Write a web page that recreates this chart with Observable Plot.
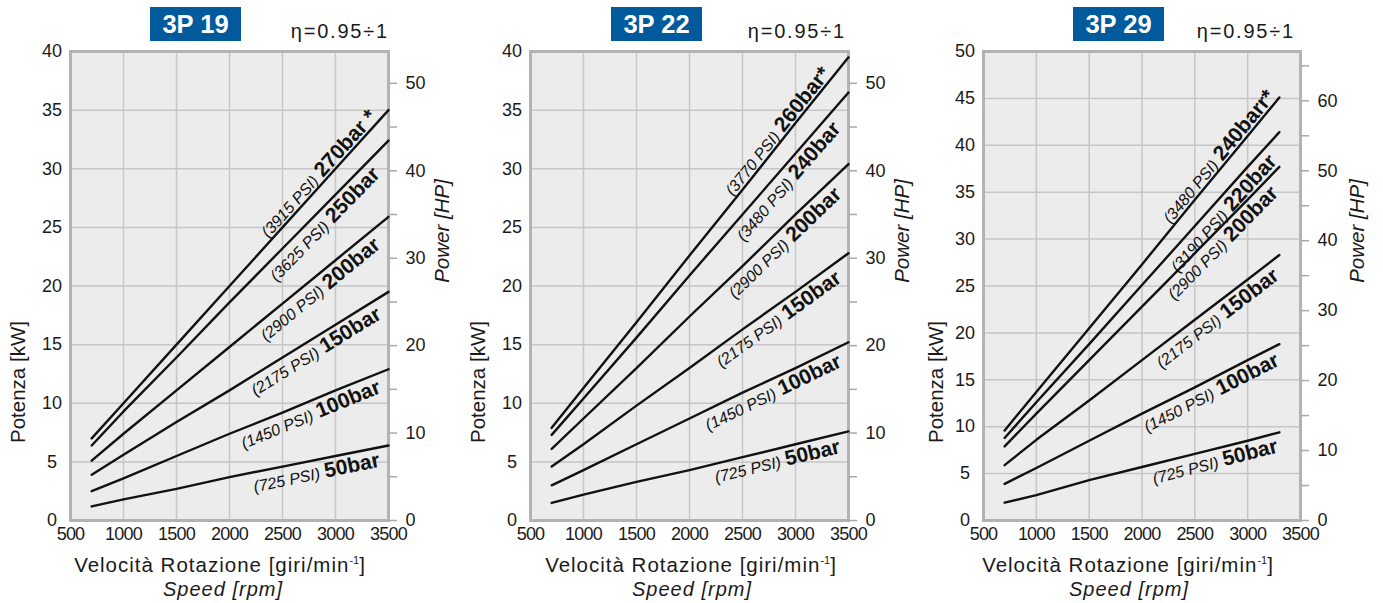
<!DOCTYPE html>
<html><head><meta charset="utf-8">
<script src="https://cdn.jsdelivr.net/npm/d3@7"></script>
<script src="https://cdn.jsdelivr.net/npm/@observablehq/plot@0.6"></script>
<style>
html,body{margin:0;padding:0;background:#fff;}
#root{position:relative;width:1383px;height:603px;overflow:hidden;font-family:"Liberation Sans",Arial,sans-serif;color:#1a1a1a;}
.panel{position:absolute;top:0;height:603px;}
.panel svg{position:absolute;left:0;top:0;overflow:visible;}
.panel svg g[aria-label="x-axis tick label"] text{letter-spacing:-0.8px;}
.tbox{position:absolute;top:7px;width:91px;height:34px;background:#005a9c;color:#fff;font-weight:bold;font-size:25.5px;line-height:34px;text-align:center;}
.eta{position:absolute;top:21px;font-size:20px;line-height:20px;letter-spacing:1.8px;white-space:nowrap;transform:translateX(-100%);}
.vel{position:absolute;top:554px;font-size:20.5px;line-height:22px;letter-spacing:1px;white-space:nowrap;transform:translateX(-50%);}
.vel sup{font-size:11px;vertical-align:8px;line-height:0;letter-spacing:0;}
.spd{position:absolute;top:578px;font-size:20px;line-height:22px;letter-spacing:1px;font-style:italic;white-space:nowrap;transform:translateX(-50%);}
.rot{position:absolute;font-size:20.5px;line-height:22px;white-space:nowrap;transform:translate(-50%,-50%) rotate(-90deg);}
.rot.it{font-style:italic;}
</style>
</head><body><div id="root"></div>
<script>
const KW_PER_HP = 0.7457;
const xTicks = [500, 1000, 1500, 2000, 2500, 3000, 3500];
const yTicks40 = [0, 5, 10, 15, 20, 25, 30, 35, 40];
const yTicks50 = [0, 5, 10, 15, 20, 25, 30, 35, 40, 45, 50];
const hpTicks50 = [0, 5, 10, 15, 20, 25, 30, 35, 40, 45, 50];
const hpTicks65 = [0, 5, 10, 15, 20, 25, 30, 35, 40, 45, 50, 55, 60, 65];

// ---- 3P 19 ----
const rpm19 = [700, 1000, 1500, 2000, 2500, 3000, 3500];
const kw19_270 = [7.0, 10.0, 15.0, 20.0, 25.0, 30.0, 35.0];
const kw19_250 = [6.4, 9.3, 13.9, 18.6, 23.2, 27.8, 32.4];
const kw19_200 = [5.1, 7.4, 11.1, 14.8, 18.5, 22.2, 25.9];
const kw19_150 = [3.9, 5.6, 8.4, 11.1, 13.9, 16.7, 19.5];
const kw19_100 = [2.5, 3.6, 5.5, 7.4, 9.2, 11.1, 12.9];
const kw19_50  = [1.2, 1.8, 2.7, 3.7, 4.6, 5.5, 6.4];
const bars19 = ["270bar *", "250bar", "200bar", "150bar", "100bar", "50bar"];
const psi19 = ["(3915 PSI)", "(3625 PSI)", "(2900 PSI)", "(2175 PSI)", "(1450 PSI)", "(725 PSI)"];

// ---- 3P 22 ----
const rpm22 = [700, 1000, 1500, 2000, 2500, 3000, 3500];
const kw22_260 = [7.9, 11.3, 16.9, 22.6, 28.2, 33.9, 39.5];
const kw22_240 = [7.3, 10.4, 15.6, 20.9, 26.1, 31.3, 36.5];
const kw22_200 = [6.1, 8.7, 13.0, 17.4, 21.7, 26.1, 30.4];
const kw22_150 = [4.6, 6.5, 9.8, 13.0, 16.3, 19.5, 22.8];
const kw22_100 = [3.0, 4.3, 6.5, 8.7, 10.9, 13.0, 15.2];
const kw22_50  = [1.5, 2.2, 3.3, 4.3, 5.4, 6.5, 7.6];
const bars22 = ["260bar*", "240bar", "200bar", "150bar", "100bar", "50bar"];
const psi22 = ["(3770 PSI)", "(3480 PSI)", "(2900 PSI)", "(2175 PSI)", "(1450 PSI)", "(725 PSI)"];

// ---- 3P 29 ----
const rpm29 = [700, 1000, 1500, 2000, 2500, 3000, 3300];
const kw29_240 = [9.6, 13.7, 20.5, 27.3, 34.2, 41.0, 45.1];
const kw29_220 = [8.8, 12.6, 18.8, 25.1, 31.4, 37.7, 41.4];
const kw29_200 = [7.9, 11.4, 17.1, 22.8, 28.5, 34.2, 37.7];
const kw29_150 = [5.9, 8.6, 12.8, 17.1, 21.4, 25.7, 28.3];
const kw29_100 = [3.9, 5.6, 8.5, 11.4, 14.2, 17.1, 18.8];
const kw29_50  = [1.9, 2.7, 4.3, 5.7, 7.1, 8.5, 9.4];
const bars29 = ["240barr*", "220bar", "200bar", "150bar", "100bar", "50bar"];
const psi29 = ["(3480 PSI)", "(3190 PSI)", "(2900 PSI)", "(2175 PSI)", "(1450 PSI)", "(725 PSI)"];

// ---- layout (positions / sizes only) ----
const labelAt19 = [3420, 3300, 3320, 3350, 3370, 3390];
const labelAt22 = [3360, 3300, 3320, 3340, 3370, 3390];
const labelAt29 = [3290, 3150, 3170, 3200, 3230, 3250];

const panels = [
  {title: "3P 19", left: 0, width: 460, frameW: 318, ymax: 40, yTicks: yTicks40, hpTicks: hpTicks50,
   rpm: rpm19, kw: [kw19_270, kw19_250, kw19_200, kw19_150, kw19_100, kw19_50], bars: bars19, psi: psi19, at: labelAt19,
   box: 150, eta: 389, vel: 220, spd: 223, pot: 18, pow: 442},
  {title: "3P 22", left: 460, width: 460, frameW: 318, ymax: 40, yTicks: yTicks40, hpTicks: hpTicks50,
   rpm: rpm22, kw: [kw22_260, kw22_240, kw22_200, kw22_150, kw22_100, kw22_50], bars: bars22, psi: psi22, at: labelAt22,
   box: 151, eta: 386, vel: 231, spd: 232, pot: 18, pow: 442},
  {title: "3P 29", left: 913, width: 470, frameW: 317, ymax: 50, yTicks: yTicks50, hpTicks: hpTicks65,
   rpm: rpm29, kw: [kw29_240, kw29_220, kw29_200, kw29_150, kw29_100, kw29_50], bars: bars29, psi: psi29, at: labelAt29,
   box: 160, eta: 382, vel: 215, spd: 216, pot: 23, pow: 444}
];

function interp(xs, ys, x) {
  for (let i = 1; i < xs.length; i++) {
    if (x <= xs[i]) { const t = (x - xs[i-1]) / (xs[i] - xs[i-1]); return ys[i-1] + t * (ys[i] - ys[i-1]); }
  }
  return ys[ys.length - 1];
}

const root = document.getElementById("root");
const NS = "http://www.w3.org/2000/svg";
const BOLD = 21, ITAL = 16;

for (const p of panels) {
  const W = p.width, H = 603, ml = 70, mr = W - 70 - p.frameW, mt = 51, mb = 83;
  const sx = d3.scaleLinear([500, 3500], [ml, W - mr]);
  const sy = d3.scaleLinear([0, p.ymax], [H - mb, mt]);
  const rows = [];
  p.kw.forEach((arr, s) => arr.forEach((v, i) => rows.push({s, x: p.rpm[i], y: v})));
  const labels = p.kw.map((arr, s) => {
    const n = arr.length - 1;
    const angle = Math.atan2(sy(arr[n]) - sy(arr[0]), sx(p.rpm[n]) - sx(p.rpm[0])) * 180 / Math.PI;
    return {x: p.at[s], y: interp(p.rpm, arr, p.at[s]), bar: p.bars[s], psi: p.psi[s], angle, above: s === 0};
  });
  const textOpts = {x: "x", y: "y", text: "bar", rotate: "angle", textAnchor: "end", fontWeight: "bold", fontSize: BOLD, fill: "#111"};
  const svg = Plot.plot({
    width: W, height: H, marginLeft: ml, marginRight: mr, marginTop: mt, marginBottom: mb,
    x: {domain: [500, 3500], axis: null},
    y: {domain: [0, p.ymax], axis: null},
    style: {background: "transparent", fontFamily: "'Liberation Sans', Arial, sans-serif", fontSize: "18px", color: "#1a1a1a", overflow: "visible"},
    marks: [
      Plot.frame({fill: "#ebeceb", stroke: "none"}),
      Plot.gridX(xTicks, {stroke: "#c6c6c6", strokeOpacity: 1, strokeWidth: 1.5}),
      Plot.gridY(p.yTicks, {stroke: "#c6c6c6", strokeOpacity: 1, strokeWidth: 1.5}),
      Plot.frame({stroke: "#b3b3b3", strokeWidth: 3}),
      Plot.axisX(xTicks, {anchor: "bottom", tickSize: 0, tickPadding: 7, fontSize: 18, label: null, tickFormat: d => String(d)}),
      Plot.axisY(p.yTicks, {anchor: "left", tickSize: 0, tickPadding: 18.5, textAnchor: "middle", fontSize: 18, label: null}),
      Plot.axisY(p.hpTicks.map(h => h * KW_PER_HP), {anchor: "right", tickSize: 8, tickPadding: 9, stroke: "#a9a9a9", strokeWidth: 1.5, fontSize: 18, label: null,
        tickFormat: d => { const h = Math.round(d / KW_PER_HP); return h % 10 === 0 ? String(h) : ""; }}),
      Plot.line(rows, {x: "x", y: "y", z: "s", stroke: "#111", strokeWidth: 2.4}),
      Plot.text(labels.filter(d => d.above), {...textOpts, lineAnchor: "bottom"}),
      Plot.text(labels.filter(d => !d.above), {...textOpts, lineAnchor: "top"})
    ]
  });
  // two-style labels: italic PSI + bold bar
  svg.querySelectorAll("text").forEach(t => {
    const lab = labels.find(l => l.bar === t.textContent);
    if (!lab) return;
    t.textContent = "";
    const a = document.createElementNS(NS, "tspan");
    a.textContent = lab.psi;
    a.setAttribute("font-style", "italic");
    a.setAttribute("font-weight", "normal");
    a.setAttribute("font-size", String(ITAL));
    const b = document.createElementNS(NS, "tspan");
    b.textContent = lab.bar;
    b.setAttribute("dx", "5");
    t.append(a, b);
    t.setAttribute("y", lab.above ? "-3" : String(0.716 * BOLD + 4));
  });

  const div = document.createElement("div");
  div.className = "panel";
  div.style.left = p.left + "px";
  div.style.width = W + "px";
  div.appendChild(svg);
  div.insertAdjacentHTML("beforeend",
    `<div class="tbox" style="left:${p.box}px">${p.title}</div>` +
    `<div class="eta" style="left:${p.eta}px">η=0.95÷1</div>` +
    `<div class="vel" style="left:${p.vel}px">Velocità Rotazione [giri/min<sup>-1</sup>]</div>` +
    `<div class="spd" style="left:${p.spd}px">Speed [rpm]</div>` +
    `<div class="rot" style="left:${p.pot}px;top:382px">Potenza [kW]</div>` +
    `<div class="rot it" style="left:${p.pow}px;top:231px">Power [HP]</div>`);
  root.appendChild(div);
}
</script>
</body></html>
